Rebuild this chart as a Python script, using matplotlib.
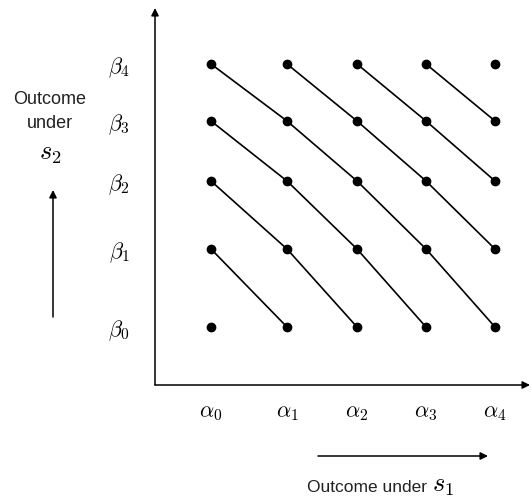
import matplotlib
matplotlib.use('Agg')
import matplotlib.pyplot as plt
from matplotlib.patches import FancyArrowPatch

plt.rcParams['mathtext.fontset'] = 'cm'
plt.rcParams['font.family'] = ['Liberation Sans', 'DejaVu Sans']

# outcome levels under each state (axis units)
alpha_labels = [r'$\alpha_0$', r'$\alpha_1$', r'$\alpha_2$', r'$\alpha_3$', r'$\alpha_4$']
alpha_vals = [56, 132, 202, 271, 340]
beta_labels = [r'$\beta_0$', r'$\beta_1$', r'$\beta_2$', r'$\beta_3$', r'$\beta_4$']
beta_vals = [58, 136, 204, 264, 321]

W, H = 531, 500
fig = plt.figure(figsize=(W / 100, H / 100), dpi=100)
# axes box: left 155px, right 530px, top 8px, bottom 385px
ax = fig.add_axes([155 / W, 1 - 385 / H, 375 / W, 377 / H])
ax.set_xlim(0, 375)
ax.set_ylim(0, 377)

# grid of outcome pairs
for a in alpha_vals:
    for b in beta_vals:
        ax.plot(a, b, 'o', color='black', markersize=6, zorder=3)

# lines join pairs with the same index sum i + j
for k in range(1, 8):
    pts = [(alpha_vals[i], beta_vals[k - i]) for i in range(5) if 0 <= k - i <= 4]
    xs, ys = zip(*pts)
    ax.plot(xs, ys, color='black', linewidth=1.2, zorder=2)

for s in ax.spines.values():
    s.set_visible(False)

# axes drawn as arrows
arrow = dict(arrowstyle='-|>', color='black', lw=1.1, mutation_scale=11, shrinkA=0, shrinkB=0)
ax.annotate('', xy=(1.0, 0), xytext=(0, 0), xycoords='axes fraction', arrowprops=arrow)
ax.annotate('', xy=(0, 1.0), xytext=(0, 0), xycoords='axes fraction', arrowprops=arrow)

ax.set_xticks(alpha_vals)
ax.set_xticklabels(alpha_labels, fontsize=16)
ax.set_yticks(beta_vals)
ax.set_yticklabels(beta_labels, fontsize=16)
ax.tick_params(axis='x', length=0, pad=12)
ax.tick_params(axis='y', length=0, pad=18)

# side captions
fig.text(50 / W, 1 - 99 / H, 'Outcome', ha='center', va='center', fontsize=13, color='#222222')
fig.text(50 / W, 1 - 123 / H, 'under', ha='center', va='center', fontsize=13, color='#222222')
fig.text(50 / W, 1 - 154 / H, r'$s_2$', ha='center', va='center', fontsize=19)
fig.patches.append(FancyArrowPatch(
    (53 / W, 1 - 317 / H), (53 / W, 1 - 190 / H), transform=fig.transFigure,
    arrowstyle='-|>', color='black', lw=1.1, mutation_scale=11, shrinkA=0, shrinkB=0))

fig.patches.append(FancyArrowPatch(
    (318 / W, 1 - 456 / H), (488 / W, 1 - 456 / H), transform=fig.transFigure,
    arrowstyle='-|>', color='black', lw=1.1, mutation_scale=11, shrinkA=0, shrinkB=0))
fig.text(307 / W, 1 - 492 / H, 'Outcome under', ha='left', va='baseline',
         fontsize=12.5, color='#222222')
fig.text(432 / W, 1 - 492 / H, r'$s_1$', ha='left', va='baseline', fontsize=19)

fig.savefig('out.png', dpi=100)
